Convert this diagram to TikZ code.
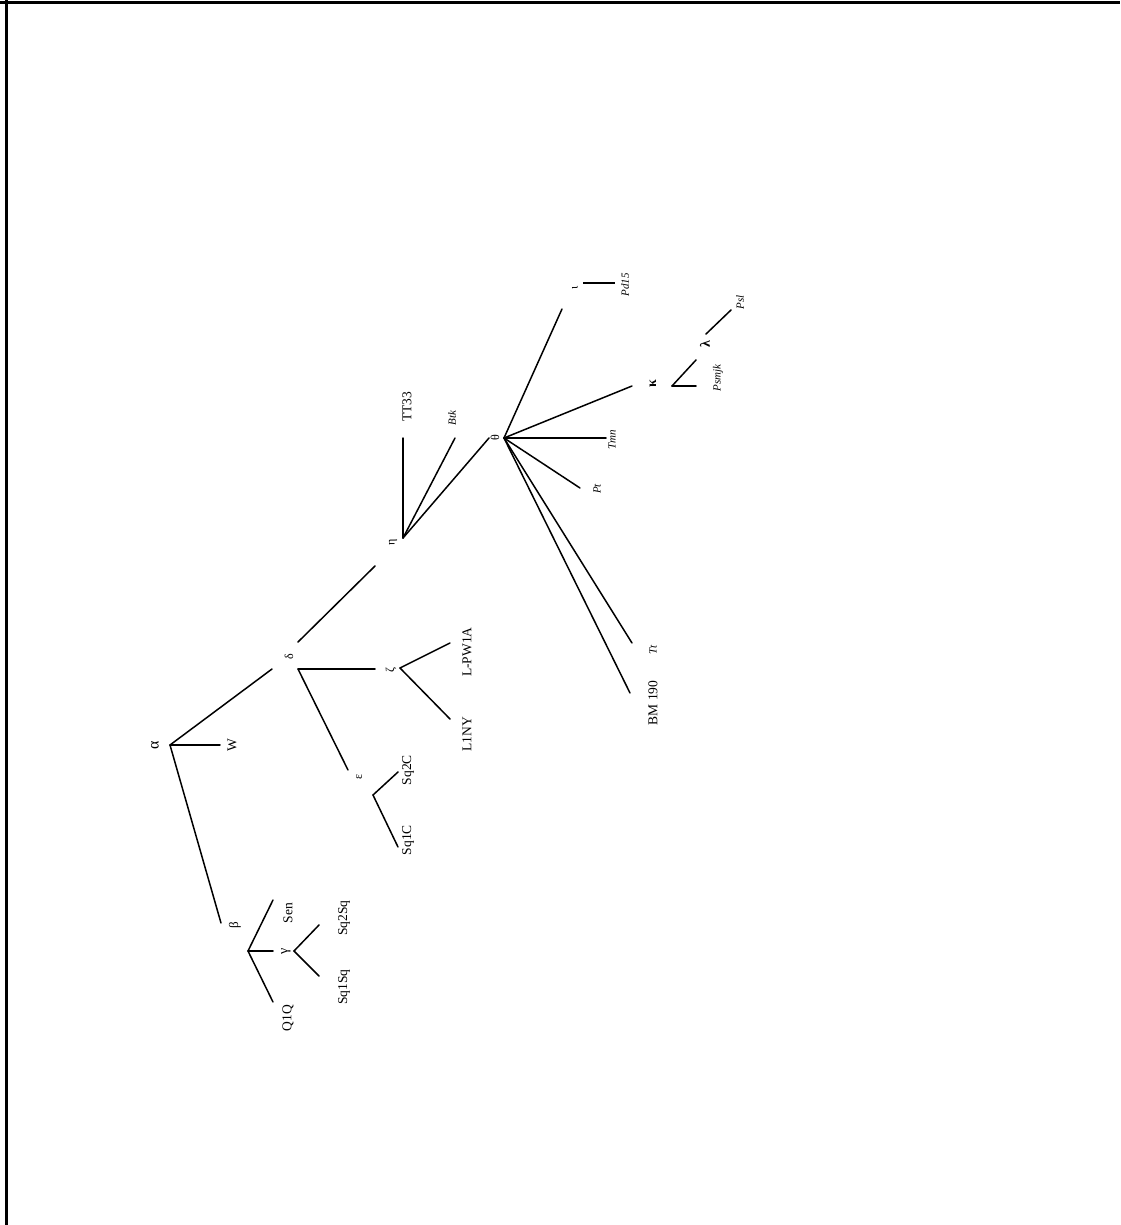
\documentclass[tikz,border=0pt]{standalone}
\usepackage{fontspec}
\setmainfont{Liberation Serif}
\begin{document}
\begin{tikzpicture}[x=1pt, y=-1pt,
    every node/.style={inner sep=0pt, rotate=90, font=\fontsize{13.5}{13.5}\selectfont},
    grk/.style={font=\fontsize{12}{12}\selectfont},
    spc/.style={font=\fontsize{11}{11}\selectfont\itshape},
    br/.style={line width=1.5pt, line cap=round}]
  \useasboundingbox (0,0) rectangle (1120,1225);

  % frame, only top and left edges show
  \draw[line width=3pt] (0,3) -- (1120,3);
  \draw[line width=3pt] (6,0) -- (6,1225);

  % branch points
  \coordinate (alpha) at (170,745);
  \coordinate (delta) at (298,669);
  \coordinate (deltaA) at (272,669);
  \coordinate (deltaB) at (298,642);
  \coordinate (betaA) at (221,923);
  \coordinate (beta) at (248,951);
  \coordinate (gammaA) at (273,951);
  \coordinate (gamma) at (294,951);
  \coordinate (zetaA) at (375,669);
  \coordinate (zeta) at (400,668);
  \coordinate (epsA) at (348,770);
  \coordinate (eps) at (373,795);
  \coordinate (etaA) at (375,566);
  \coordinate (eta) at (403,538);
  \coordinate (thetaA) at (489,438);
  \coordinate (theta) at (504,438);
  \coordinate (iotaA) at (562,309);
  \coordinate (iota) at (583,283);
  \coordinate (kappaA) at (632,386);
  \coordinate (kappa) at (672,386);
  \coordinate (lambdaA) at (696,360);
  \coordinate (lambda) at (706,334);

  % leaf ends
  \coordinate (W) at (220,745);
  \coordinate (Sen) at (273,900);
  \coordinate (QQ) at (273,1002);
  \coordinate (SqSqB) at (319,925);
  \coordinate (SqSqA) at (319,976);
  \coordinate (LPW) at (450,643);
  \coordinate (LNY) at (450,719);
  \coordinate (SqCB) at (398,772);
  \coordinate (SqCA) at (398,847);
  \coordinate (TT) at (403,438);
  \coordinate (Btk) at (455,438);
  \coordinate (Pd) at (615,283);
  \coordinate (Psmjk) at (696,386);
  \coordinate (Psl) at (731,310);
  \coordinate (Tmn) at (606,438);
  \coordinate (Pt) at (580,488);
  \coordinate (Tt) at (632,643);
  \coordinate (BM) at (630,693);

  \draw[br] (alpha) -- (W);
  \draw[br] (alpha) -- (deltaA);
  \draw[br] (alpha) -- (betaA);
  \draw[br] (beta) -- (Sen);
  \draw[br] (beta) -- (gammaA);
  \draw[br] (beta) -- (QQ);
  \draw[br] (gamma) -- (SqSqB);
  \draw[br] (gamma) -- (SqSqA);
  \draw[br] (delta) -- (zetaA);
  \draw[br] (delta) -- (epsA);
  \draw[br] (deltaB) -- (etaA);
  \draw[br] (zeta) -- (LPW);
  \draw[br] (zeta) -- (LNY);
  \draw[br] (eps) -- (SqCB);
  \draw[br] (eps) -- (SqCA);
  \draw[br] (eta) -- (TT);
  \draw[br] (eta) -- (Btk);
  \draw[br] (eta) -- (thetaA);
  \draw[br] (theta) -- (iotaA);
  \draw[br] (theta) -- (kappaA);
  \draw[br] (theta) -- (Tmn);
  \draw[br] (theta) -- (Pt);
  \draw[br] (theta) -- (Tt);
  \draw[br] (theta) -- (BM);
  \draw[line width=2.2pt] (iota) -- (Pd);
  \draw[br] (kappa) -- (Psmjk);
  \draw[br] (kappa) -- (lambdaA);
  \draw[br] (lambda) -- (Psl);

  % internal labels
  \node[grk, font=\fontsize{16}{16}\selectfont] (alphaL) at (155,745) {α};
  \node[grk, font=\fontsize{13}{13}\selectfont] (betaL) at (235,925) {β};
  \node[grk, font=\fontsize{14}{14}\selectfont] (gammaL) at (286,951) {γ};
  \node[grk] (deltaL) at (289,657) {δ};
  \node[grk] (epsL) at (359,777) {ε};
  \node[grk] (zetaL) at (391,670) {ζ};
  \node[grk] (etaL) at (393,542) {η};
  \node[grk] (thetaL) at (495,438) {θ};
  \node[grk] (iotaL) at (575,288) {ι};
  \node[grk, font=\fontsize{14}{14}\selectfont\bfseries] (kappaL) at (653,384) {κ};
  \node[grk, font=\fontsize{14}{14}\selectfont\bfseries] (lambdaL) at (705,344) {λ};

  % leaf labels
  \node (WL) at (232,745) {W};
  \node (SenL) at (288,913) {Sen};
  \node (QQL) at (288,1018) {Q1Q};
  \node (SqSqBL) at (344,918) {Sq2Sq};
  \node (SqSqAL) at (344,987) {Sq1Sq};
  \node (LPWL) at (467,652) {L-PW1A};
  \node (LNYL) at (467,734) {L1NY};
  \node (SqCBL) at (408,770) {Sq2C};
  \node (SqCAL) at (408,840) {Sq1C};
  \node (TTL) at (407,407) {TT33};
  \node[spc] (BtkL) at (452,418) {Btk};
  \node[spc] (PdL) at (625,285) {Pd15};
  \node[spc] (PsmjkL) at (718,378) {Psmjk};
  \node[spc] (PslL) at (740,302) {Psl};
  \node[spc] (TmnL) at (612,440) {Tmn};
  \node[spc] (PtL) at (597,489) {Pt};
  \node[spc] (TtL) at (653,650) {Tt};
  \node (BML) at (653,703) {BM 190};
\end{tikzpicture}
\end{document}
